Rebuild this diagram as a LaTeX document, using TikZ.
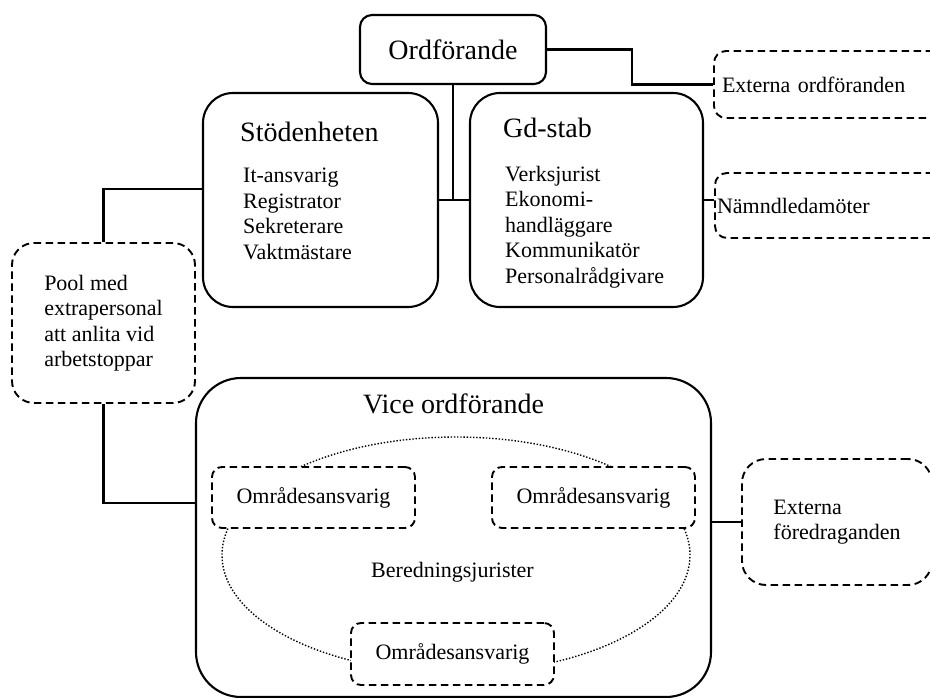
\documentclass[tikz,border=0pt]{standalone}
\usepackage{fontspec}
\setmainfont{Liberation Serif}
\usetikzlibrary{shapes.geometric}
\newcommand{\orghead}{\fontsize{28}{32}\selectfont}
\newcommand{\orgbody}{\fontsize{22}{25.5}\selectfont}
\tikzstyle{unit}=[draw, line width=2.1pt, fill=white, inner sep=0]
\tikzstyle{guest}=[draw, line width=1.9pt, dash pattern=on 7.5pt off 4.5pt, fill=white, font=\orgbody]
\tikzstyle{heading}=[font=\orghead, inner sep=0]
\tikzstyle{roles}=[font=\orgbody, align=left, inner sep=0]
\tikzstyle{group}=[draw, ellipse, line width=1.4pt, dash pattern=on 1.4pt off 1.8pt]
\tikzstyle{link}=[line width=2.1pt]

\begin{document}
\begin{tikzpicture}[x=1pt, y=-1pt]
  \useasboundingbox (0,0) rectangle (930,698);
  \node[unit, rounded corners=12pt, minimum width=186pt, minimum height=69pt, font=\orghead] (ord) at (453, 49.5) {Ordförande};
  \node[guest, rounded corners=12pt, minimum height=67pt, text width=215pt, inner xsep=8pt, align=left] (extord) at (829.5, 84.5) {Externa ordföranden};

  \node[unit, rounded corners=30pt, minimum width=235pt, minimum height=214pt] (stod) at (320.5, 200) {};
  \node[heading, anchor=base west] (stodhead) at (240, 142) {Stödenheten};
  \node[roles, anchor=north west] (stodroles) at (243, 168) {It-ansvarig\\Registrator\\Sekreterare\\Vaktmästare};

  \node[unit, rounded corners=30pt, minimum width=233pt, minimum height=214pt] (gd) at (586.5, 200) {};
  \node[heading, anchor=base west] (gdhead) at (503, 138) {Gd-stab};
  \node[roles, anchor=north west] (gdroles) at (505, 166) {Verksjurist\\Ekonomi-\\handläggare\\Kommunikatör\\Personalrådgivare};

  \node[guest, rounded corners=12pt, minimum height=65pt, text width=226pt, inner xsep=2pt, align=left] (namnd) at (830, 205.5) {Nämndledamöter};

  \node[unit, rounded corners=45pt, minimum width=515pt, minimum height=319pt] (vice) at (453.5, 537.5) {};
  \node[heading, anchor=base] (vicehead) at (453.5, 413) {Vice ordförande};
  \node[group, minimum width=468pt, minimum height=236pt] (berring) at (456, 555) {};
  \node[font=\orgbody, anchor=base, inner sep=0] (ber) at (452.5, 577) {Beredningsjurister};
  \node[guest, rounded corners=10pt, minimum width=203pt, minimum height=61pt] (oml) at (313.5, 497.5) {Områdesansvarig};
  \node[guest, rounded corners=10pt, minimum width=203pt, minimum height=61pt] (omr) at (593.5, 497.5) {Områdesansvarig};
  \node[guest, rounded corners=10pt, minimum width=203pt, minimum height=62pt] (omb) at (452.5, 654) {Områdesansvarig};

  \node[guest, rounded corners=22pt, minimum width=183pt, minimum height=160pt, align=left] (pool) at (103.5, 323) {Pool med\\extrapersonal\\att anlita vid\\arbetstoppar};
  \node[guest, rounded corners=24pt, minimum width=190pt, minimum height=126pt, align=left] (extfor) at (837, 522) {Externa\\föredraganden};

  \draw[link] (ord.east) -- ++(85,0) |- (extord.west);
  \draw[link] (ord.south) -- (ord.south |- gd.west);
  \draw[link] (stod.east) -- (gd.west);
  \draw[link] (gd.east) -- (gd.east -| namnd.west);
  \draw[link] (pool.north) |- ([yshift=11pt]stod.west);
  \draw[link] (pool.south) |- ([yshift=34.5pt]vice.west);
  \draw[link] (extfor.west) -- (extfor.west -| vice.east);
\end{tikzpicture}
\end{document}
